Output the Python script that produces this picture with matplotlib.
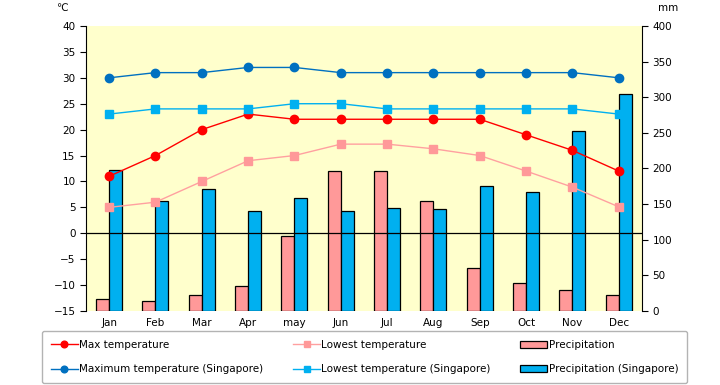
import matplotlib
matplotlib.use("Agg")
import matplotlib.pyplot as plt
import numpy as np

# data #
months = ["Jan", "Feb", "Mar", "Apr", "may", "Jun", "Jul", "Aug", "Sep", "Oct", "Nov", "Dec"]
max_temp = [11, 15, 20, 23, 22, 22, 22, 22, 22, 19, 16, 12]
low_temp = [5, 6, 10, 14, 15, 17.2, 17.2, 16.3, 15, 12, 8.9, 5.1]
precip = [17, 14, 22, 35, 105, 196, 196, 155, 60, 39, 30, 22]
max_temp_sg = [30, 31, 31, 32, 32, 31, 31, 31, 31, 31, 31, 30]
low_temp_sg = [23, 24, 24, 24, 25, 25, 24, 24, 24, 24, 24, 23]
precip_sg = [198, 154, 171, 140, 158, 140, 144, 143, 176, 167, 252, 304]

plt.rcParams["font.family"] = ["DejaVu Sans"]
plt.rcParams["font.size"] = 7.5

fig = plt.figure(figsize=(7.2, 3.85), dpi=100)
ax = fig.add_axes([0.1194, 0.1922, 0.7722, 0.7403])
ax2 = ax.twinx()

# bars go on the mm axis, kept behind the temperature lines #
ax.set_zorder(ax2.get_zorder() + 1)
ax.patch.set_visible(False)
ax2.patch.set_visible(True)
ax2.patch.set_facecolor("#FFFFCC")

x = np.arange(len(months))
w = 0.28
ax2.bar(x - w / 2, precip, w, color="#FF9999", edgecolor="black", linewidth=0.9,
        label="Precipitation")
ax2.bar(x + w / 2, precip_sg, w, color="#00B0F0", edgecolor="black", linewidth=0.9,
        label="Precipitation (Singapore)")

ax.axhline(0, color="black", linewidth=0.9)
ax.plot(x, max_temp, color="#FF0000", marker="o", markersize=6, linewidth=1,
        label="Max temperature")
ax.plot(x, low_temp, color="#FFA0A0", marker="s", markersize=6, linewidth=1,
        markerfacecolor="#FF9999", markeredgecolor="#FF9999", label="Lowest temperature")
ax.plot(x, max_temp_sg, color="#0070C0", marker="o", markersize=6, linewidth=1,
        label="Maximum temperature (Singapore)")
ax.plot(x, low_temp_sg, color="#00B0F0", marker="s", markersize=6, linewidth=1,
        label="Lowest temperature (Singapore)")

ax.set_xlim(-0.5, 11.5)
ax.set_ylim(-15, 40)
ax.set_yticks(range(-15, 41, 5))
ax2.set_ylim(0, 400)
ax2.set_yticks(range(0, 401, 50))
ax.set_xticks(x)
ax.set_xticklabels(months)
ax.tick_params(axis="x", length=0, pad=5)
ax.tick_params(axis="y", direction="out", length=4)
ax2.tick_params(axis="y", direction="out", length=4)

for a in (ax, ax2):
    a.spines["top"].set_visible(False)
    a.spines["bottom"].set_visible(False)
ax.spines["right"].set_visible(False)
ax2.spines["left"].set_visible(False)

fig.text(62 / 720, 1 - 8 / 385, "\u2103", ha="center", va="center")
fig.text(668 / 720, 1 - 8 / 385, "mm", ha="center", va="center")

h1, l1 = ax.get_legend_handles_labels()
h2, l2 = ax2.get_legend_handles_labels()
handles = [h1[0], h1[2], h1[1], h1[3], h2[0], h2[1]]
labels = [l1[0], l1[2], l1[1], l1[3], l2[0], l2[1]]
leg = fig.legend(handles, labels, ncol=3, loc="lower left",
                 bbox_to_anchor=(42 / 720, 2 / 385, 645 / 720, 50 / 385),
                 mode="expand", fancybox=True, edgecolor="#A0A0A0",
                 handlelength=2.6, handletextpad=0.1, labelspacing=1.35,
                 borderpad=0.85, borderaxespad=0, frameon=True, markerscale=0.8)
leg.get_frame().set_linewidth(1)

fig.savefig("out.png", dpi=100)
